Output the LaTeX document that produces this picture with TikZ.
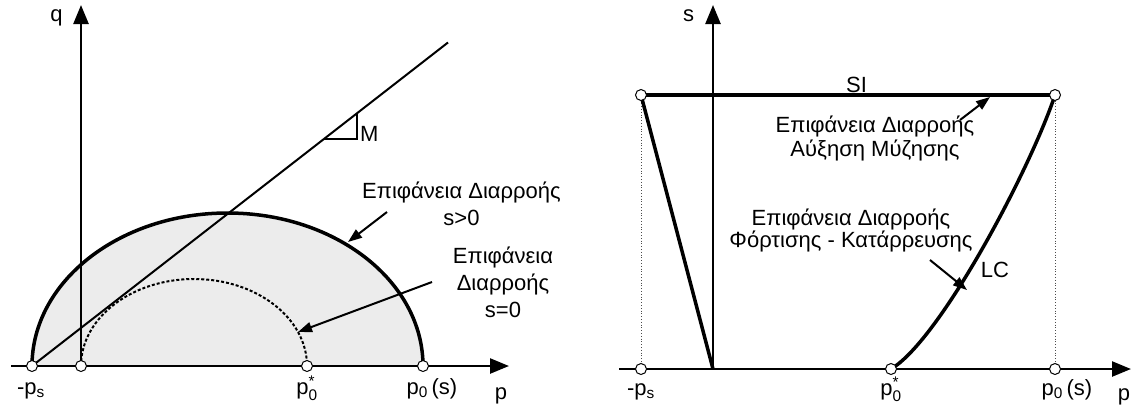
\documentclass[tikz,border=0pt]{standalone}
\usepackage{amsmath}
\usepackage{fontspec}
\setmainfont{Liberation Sans}
\usetikzlibrary{arrows.meta,positioning}

\begin{document}
\begin{tikzpicture}[
    x=1pt, y=-1pt,
    font=\fontsize{22}{24}\selectfont,
    axisline/.style={line width=2.5pt, -{Triangle[length=19pt, width=15pt]}},
    yieldline/.style={line width=3.5pt, line join=round},
    cslline/.style={line width=2pt},
    noteline/.style={line width=2pt, -{Triangle[length=14pt, width=10pt]}},
    guideline/.style={line width=0.8pt, dotted, black!70},
    endpt/.style={circle, draw, line width=1pt, fill=white, inner sep=0pt, minimum size=11pt},
    notetext/.style={align=center, inner sep=0pt, anchor=base},
    ticktext/.style={inner sep=0pt, anchor=base}
  ]
  \useasboundingbox (0,0) rectangle (1132,408);

  % p-q plane
  \coordinate (lpa) at (11,366);
  \coordinate (lpb) at (509,366);
  \coordinate (lqa) at (81,366);
  \coordinate (lqb) at (81,5);
  \coordinate (lps) at (32,366);
  \coordinate (lpz) at (307,366);
  \coordinate (lpzs) at (423,366);
  \coordinate (csl) at (448,42.5);
  \coordinate (ma) at (324,139);
  \coordinate (mb) at (357,139);
  \coordinate (mc) at (357,113.5);
  \fill[gray!15] (lps) arc[start angle=180, end angle=0, x radius=195.5pt, y radius=153pt] -- cycle;
  \draw[line width=2pt, dash pattern=on 3pt off 2pt] (lqa) arc[start angle=180, end angle=0, x radius=113pt, y radius=87pt];
  \draw[axisline] (lpa) -- (lpb);
  \draw[axisline] (lqa) -- (lqb);
  \draw[cslline] (lps) -- (csl);
  \draw[line width=1.5pt] (ma) -- (mb) -- (mc);
  \draw[yieldline] (lps) arc[start angle=180, end angle=0, x radius=195.5pt, y radius=153pt];
  \node[endpt] (nps) at (lps) {};
  \node[endpt] (norig) at (lqa) {};
  \node[endpt] (npz) at (lpz) {};
  \node[endpt] (npzs) at (lpzs) {};

  \node[ticktext] (qlab) at (56.5,21) {q};
  \node[ticktext] (lplab) at (501,399) {p};
  \node[ticktext] (lpslab) at (31,394) {-p$_{\text{s}}$};
  \node[ticktext] (lpzlab) at (307,394) {p$_{\text{0}}^{\text{*}}$};
  \node[ticktext] (lpzslab) at (432,394) {p$_{\text{0}}$\,(s)};
  \node[ticktext, anchor=base west] (mlab) at (360,141.5) {M};

  \node[notetext, font=\fontsize{22}{27}\selectfont] (wetlab) at (461.5,225) {Επιφάνεια Διαρροής\\s>0};
  \node[notetext, font=\fontsize{22}{27}\selectfont] (drylab) at (503,317) {Επιφάνεια\\Διαρροής\\s=0};
  \coordinate (weta) at (387,212);
  \coordinate (wetb) at (348,242);
  \coordinate (drya) at (432,282);
  \coordinate (dryb) at (298,332);
  \draw[noteline] (weta) -- (wetb);
  \draw[noteline] (drya) -- (dryb);

  % p-s plane
  \coordinate (rpa) at (619,369);
  \coordinate (rpb) at (1131,369);
  \coordinate (rsa) at (713,369);
  \coordinate (rsb) at (713,5);
  \coordinate (rps) at (641,369);
  \coordinate (rpz) at (891,369);
  \coordinate (rpzs) at (1055,369);
  \coordinate (sil) at (641,95);
  \coordinate (sir) at (1055,95);
  \draw[guideline] (sil) -- (rps);
  \draw[guideline] (sir) -- (rpzs);
  \draw[axisline] (rpa) -- (rpb);
  \draw[axisline] (rsa) -- (rsb);
  \draw[yieldline] (sil) -- (rsa);
  \draw[yieldline] (sil) -- (sir);
  \draw[yieldline] (rpz) .. controls (940,340) and (1030,170) .. (sir);
  \node[endpt] (nsil) at (sil) {};
  \node[endpt] (nsir) at (sir) {};
  \node[endpt] (nrps) at (rps) {};
  \node[endpt] (nrpz) at (rpz) {};
  \node[endpt] (nrpzs) at (rpzs) {};

  \node[ticktext] (slab) at (688.5,21) {s};
  \node[ticktext] (rplab) at (1124,400) {p};
  \node[ticktext] (rpslab) at (641,395) {-p$_{\text{s}}$};
  \node[ticktext] (rpzlab) at (891,395) {p$_{\text{0}}^{\text{*}}$};
  \node[ticktext] (rpzslab) at (1067,395) {p$_{\text{0}}$\,(s)};
  \node[ticktext] (silab) at (856.5,92) {SI};
  \node[ticktext] (lclab) at (995,277) {LC};

  \node[notetext] (sinote) at (875,156.7) {Επιφάνεια Διαρροής\\Αύξηση Μύζησης};
  \node[notetext, font=\fontsize{22}{22}\selectfont] (lcnote) at (851,247.5) {Επιφάνεια Διαρροής\\Φόρτισης - Κατάρρευσης};
  \coordinate (sia) at (960,120);
  \coordinate (sib) at (990,97);
  \coordinate (lca) at (930,260);
  \coordinate (lcb) at (967,290);
  \draw[noteline] (sia) -- (sib);
  \draw[noteline] (lca) -- (lcb);
\end{tikzpicture}
\end{document}
